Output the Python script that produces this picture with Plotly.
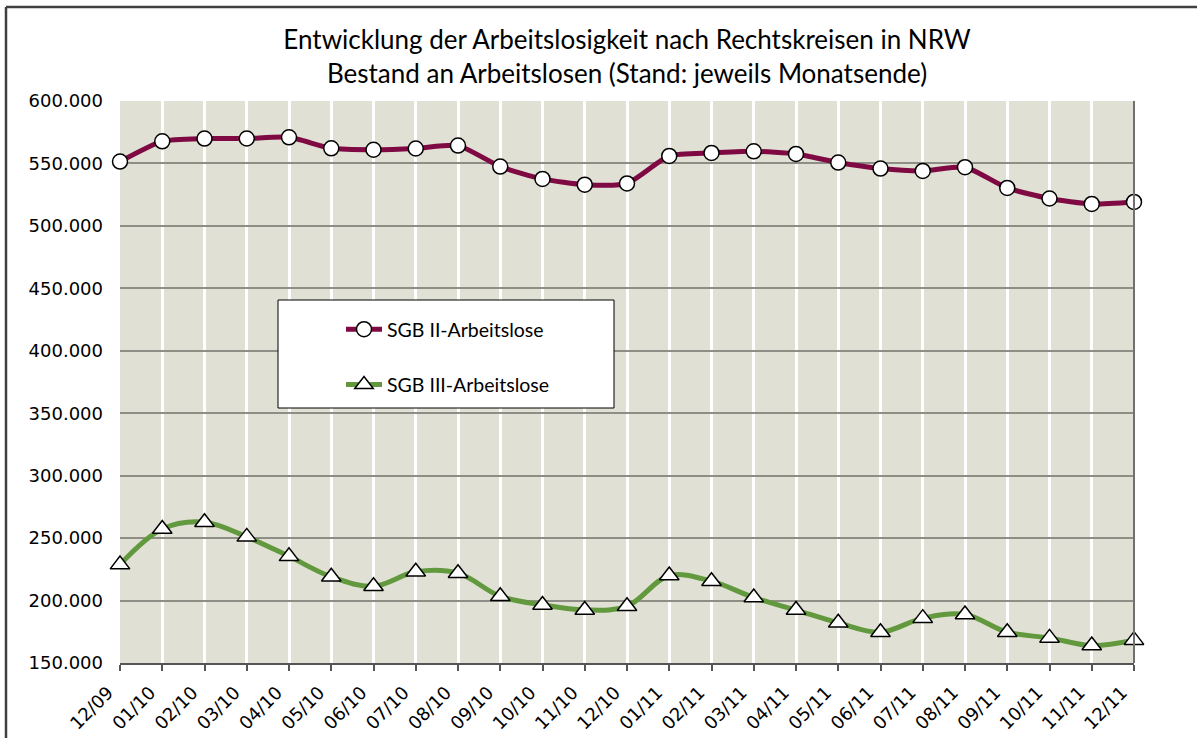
import plotly.graph_objects as go

months = ["12/09", "01/10", "02/10", "03/10", "04/10", "05/10", "06/10", "07/10", "08/10",
          "09/10", "10/10", "11/10", "12/10", "01/11", "02/11", "03/11", "04/11", "05/11",
          "06/11", "07/11", "08/11", "09/11", "10/11", "11/11", "12/11"]

sgb2 = [551500, 567700, 569900, 570000, 570900, 562100, 561000, 562000, 564300,
        547500, 537600, 533000, 534000, 556000, 558400, 559700, 557600, 550700,
        545900, 544000, 547000, 530400, 521900, 517600, 519200]

sgb3 = [228800, 257300, 262700, 251000, 235400, 219000, 211400, 223000, 221900,
        203400, 196500, 192500, 195400, 220000, 215500, 202400, 192400, 182200,
        174600, 185900, 188800, 174600, 170100, 164000, 168300]

y_ticks = [150000, 200000, 250000, 300000, 350000, 400000, 450000, 500000, 550000, 600000]

xs = list(range(len(months)))

fig = go.Figure()
fig.add_trace(go.Scatter(
    x=xs, y=sgb2, name="SGB II-Arbeitslose", mode="lines+markers",
    line=dict(color="#7F0A43", width=5, shape="spline", smoothing=0.6),
    marker=dict(symbol="circle", size=15, color="white", line=dict(color="black", width=1.5)),
    cliponaxis=False, legendgroup="a",
))
fig.add_trace(go.Scatter(
    x=xs, y=sgb3, name="SGB III-Arbeitslose", mode="lines+markers",
    line=dict(color="#62993E", width=5, shape="spline", smoothing=1),
    marker=dict(symbol="triangle-up", size=17, color="white", line=dict(color="black", width=1.5)),
    cliponaxis=False, legendgroup="b",
))

L, T, W, H = 120, 101, 1014, 562
def px(xp): return (xp - L) / W
def py(yp): return (T + H - yp) / H

shapes = [
    # legend box
    dict(type="rect", xref="paper", yref="paper", x0=px(278), x1=px(614), y0=py(408), y1=py(300),
         fillcolor="white", line=dict(color="black", width=1), layer="above"),
    # right edge line
    dict(type="line", xref="paper", yref="paper", x0=1, x1=1, y0=0, y1=1,
         line=dict(color="#707070", width=2), layer="above"),
    # outer chart border
    dict(type="line", xref="paper", yref="paper", x0=px(6), x1=px(1200), y0=py(7), y1=py(7),
         line=dict(color="#404040", width=2.5)),
    dict(type="line", xref="paper", yref="paper", x0=px(6), x1=px(6), y0=py(7), y1=py(745),
         line=dict(color="#404040", width=2.5)),
]

fig.update_layout(
    width=1197, height=738,
    margin=dict(l=L, r=1197 - L - W, t=T, b=738 - T - H),
    paper_bgcolor="white", plot_bgcolor="#E0E1D4",
    title=dict(
        text="Entwicklung der Arbeitslosigkeit nach Rechtskreisen in NRW<br>Bestand an Arbeitslosen (Stand: jeweils Monatsende)",
        x=0.5, xref="paper", xanchor="center", y=1 - 49 / 738, yanchor="middle",
        font=dict(family="Lato", size=26, color="black"),
    ),
    font=dict(family="DejaVu Sans", color="black"),
    xaxis=dict(
        range=[0, 24], tickmode="array", tickvals=xs, ticktext=months, tickangle=-45,
        showgrid=True, gridcolor="white", gridwidth=2.5,
        showline=True, linecolor="#555555", linewidth=2,
        ticks="outside", ticklen=6, tickcolor="#555555", tickwidth=1.5,
        tickfont=dict(family="DejaVu Sans", size=18, color="black"),
        ticklabelstandoff=4, ticklabelshift=-12,
        zeroline=False, automargin=False,
    ),
    yaxis=dict(
        range=[150000, 600000], tickmode="array", tickvals=y_ticks,
        ticktext=[f"{v:,}".replace(",", ".") for v in y_ticks],
        showgrid=True, gridcolor="#8E8E86", gridwidth=1.5,
        showline=False, zeroline=False, ticks="", ticklabelstandoff=16,
        tickfont=dict(family="DejaVu Sans", size=18, color="black"),
        automargin=False,
    ),
    legend=dict(
        x=px(341), y=py(310), xanchor="left", yanchor="top",
        bgcolor="rgba(0,0,0,0)", borderwidth=0,
        font=dict(family="Lato", size=19.5, color="black"),
        traceorder="grouped", tracegroupgap=27, itemwidth=36,
    ),
    shapes=shapes,
)

fig.write_html("out.html", config={"displayModeBar": False},
               post_script="document.body.style.margin='0';")
